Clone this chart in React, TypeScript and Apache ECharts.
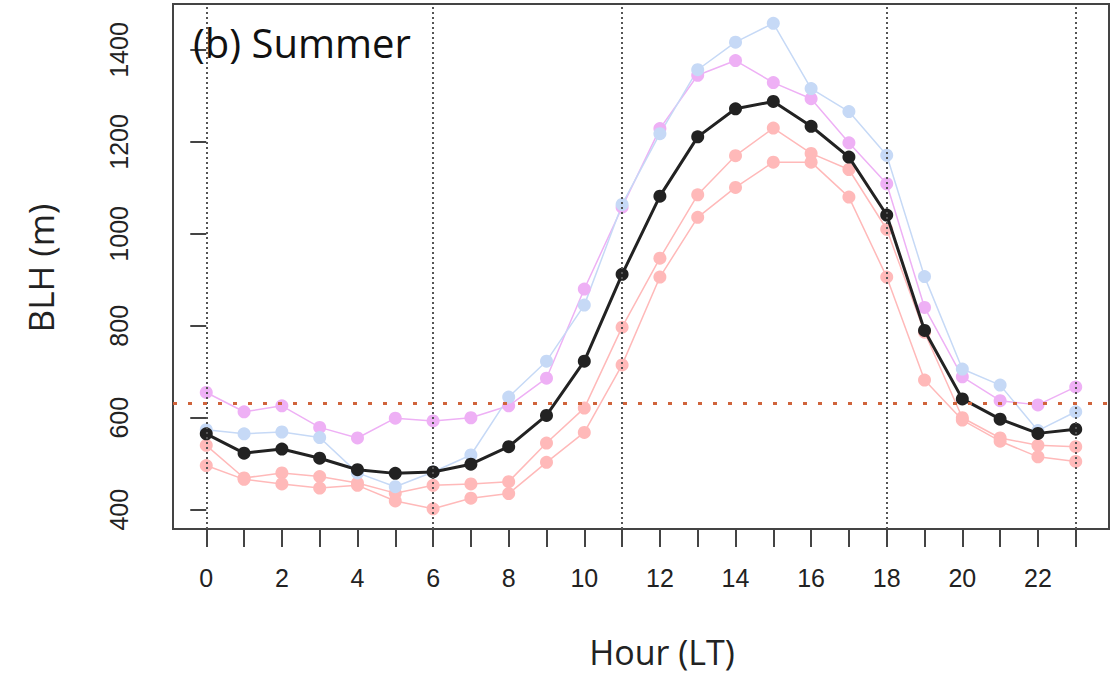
import React, { useEffect, useRef } from "react";
import * as echarts from "echarts";

const hours = [0, 1, 2, 3, 4, 5, 6, 7, 8, 9, 10, 11, 12, 13, 14, 15, 16, 17, 18, 19, 20, 21, 22, 23];
const xLabelHours = [0, 2, 4, 6, 8, 10, 12, 14, 16, 18, 20, 22];
const yTicks = [400, 600, 800, 1000, 1200, 1400];
const refHours = [0, 6, 11, 18, 23];
const threshold = 632;

const meanBLH = [565, 523, 532, 512, 487, 479, 482, 499, 537, 605, 723, 912, 1082, 1211, 1272, 1288, 1234, 1167, 1041, 790, 641, 597, 566, 575];
const blueBLH = [574, 565, 569, 557, 480, 450, 482, 519, 645, 723, 845, 1064, 1218, 1357, 1417, 1458, 1316, 1266, 1171, 907, 706, 671, 572, 613];
const violetBLH = [655, 613, 626, 579, 556, 599, 593, 600, 626, 686, 880, 1058, 1229, 1345, 1377, 1329, 1294, 1198, 1109, 840, 689, 637, 628, 667];
const pinkABLH = [540, 469, 480, 472, 458, 436, 453, 456, 461, 545, 621, 797, 947, 1085, 1170, 1230, 1175, 1140, 1010, 786, 600, 556, 540, 537];
const pinkBBLH = [496, 466, 456, 447, 453, 419, 402, 425, 435, 503, 568, 715, 906, 1036, 1101, 1156, 1156, 1080, 906, 682, 595, 549, 515, 505];

const pair = (vals: number[]) => hours.map((h, i) => [h, vals[i]]);

export default function App() {
  const ref = useRef<HTMLDivElement>(null);
  useEffect(() => {
    if (!ref.current) return;
    const chart = echarts.init(ref.current, null, { renderer: "svg" });
    const labelFont = "'Liberation Sans', Arial, sans-serif";
    const thin = (name: string, data: number[], color: string) => ({
      name,
      type: "line",
      data: pair(data),
      symbol: "circle",
      symbolSize: 13,
      lineStyle: { color, width: 1.5 },
      itemStyle: { color },
      z: 2,
    });
    chart.setOption({
      animation: false,
      backgroundColor: "#ffffff",
      grid: {
        left: 173,
        right: 5,
        top: 4,
        bottom: 148,
        show: true,
        borderColor: "#444",
        borderWidth: 2,
        backgroundColor: "transparent",
      },
      xAxis: {
        type: "value",
        min: -0.88,
        max: 23.88,
        axisLine: { show: false },
        splitLine: { show: false },
        axisTick: {
          show: true,
          customValues: hours,
          length: 18,
          lineStyle: { color: "#444", width: 2 },
        },
        axisLabel: {
          customValues: xLabelHours,
          margin: 36,
          fontSize: 25,
          fontFamily: labelFont,
          color: "#222",
          formatter: (v: number) => String(v),
        },
      },
      yAxis: {
        type: "value",
        min: 358,
        max: 1500,
        axisLine: { show: false },
        splitLine: { show: false },
        axisTick: {
          show: true,
          customValues: yTicks,
          length: 16,
          lineStyle: { color: "#444", width: 2 },
        },
        axisLabel: {
          customValues: yTicks,
          rotate: 90,
          margin: 42,
          fontSize: 25,
          fontFamily: labelFont,
          color: "#222",
          formatter: (v: number) => String(v),
        },
      },
      series: [
        thin("Pink A", pinkABLH, "#ffb9b9"),
        thin("Pink B", pinkBBLH, "#ffb9b9"),
        thin("Violet", violetBLH, "#eeb0f5"),
        thin("Blue", blueBLH, "#c6d9f6"),
        {
          name: "Mean",
          type: "line",
          data: pair(meanBLH),
          symbol: "circle",
          symbolSize: 13,
          lineStyle: { color: "#222", width: 3 },
          itemStyle: { color: "#222" },
          z: 3,
        },
        {
          name: "refs",
          type: "line",
          data: [],
          z: 5,
          markLine: {
            silent: true,
            symbol: ["none", "none"],
            label: { show: false },
            data: [
              ...refHours.map((h) => ({
                xAxis: h,
                lineStyle: { color: "#555", width: 2, type: [2, 3] },
              })),
              {
                yAxis: threshold,
                lineStyle: { color: "#d0643c", width: 3, type: [4, 11] },
              },
            ],
          },
        },
      ],
      graphic: [
        {
          type: "text",
          x: 193,
          y: 42,
          style: {
            text: "(b) Summer",
            fontSize: 40,
            fontFamily: "'Open Sans', sans-serif",
            fill: "#111",
            verticalAlign: "middle",
            align: "left",
          },
          z: 10,
        },
        {
          type: "text",
          x: 40,
          y: 268,
          rotation: Math.PI / 2,
          style: {
            text: "BLH (m)",
            fontSize: 35,
            fontFamily: "'Open Sans', sans-serif",
            fill: "#222",
            verticalAlign: "middle",
            align: "center",
          },
        },
        {
          type: "text",
          x: 662,
          y: 652,
          style: {
            text: "Hour (LT)",
            fontSize: 34,
            fontFamily: "'Open Sans', sans-serif",
            fill: "#222",
            verticalAlign: "middle",
            align: "center",
          },
        },
      ],
    });
    return () => chart.dispose();
  }, []);
  return (
    <div
      ref={ref}
      style={{ position: "fixed", left: 0, top: 0, width: 1114, height: 677, background: "#fff" }}
    />
  );
}
